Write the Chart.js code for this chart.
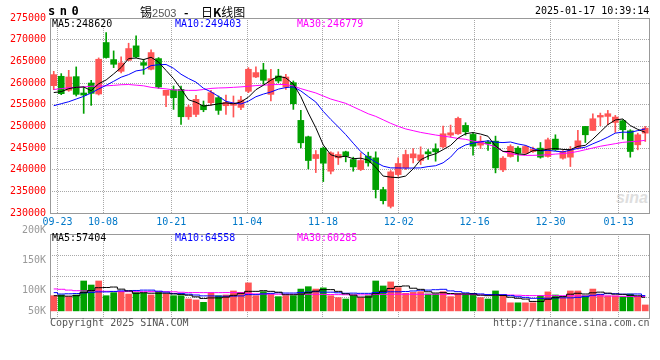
<!DOCTYPE html>
<html>
<head>
<meta charset="utf-8">
<title>锡2503 日K线图</title>
<script src="https://cdn.jsdelivr.net/npm/chart.js@4.4.1/dist/chart.umd.min.js"></script>
<style>
  body { margin: 0; background: #fff; }
  #wrap { position: relative; width: 660px; height: 360px; overflow: hidden; }
  #wrap canvas { position: absolute; left: 0; }
  .t { position: absolute; white-space: nowrap; font: 10px 'DejaVu Sans Mono', monospace; line-height: 10px; color: #000; }
  .vl { left: 0; width: 46px; text-align: right; color: #999; }
</style>
</head>
<body>
<div id="wrap">
  <div class="t" style="left:616px;top:190px;font:italic bold 16px 'Liberation Sans';line-height:16px;color:#dedede">sina</div>
  <canvas id="kChart" width="660" height="228" style="top:0"></canvas>
  <canvas id="volChart" width="660" height="112" style="top:228px"></canvas>

  <div class="t" style="left:48px;top:5px;font:bold 12px 'DejaVu Sans Mono';line-height:12px;letter-spacing:4.5px">sn0</div>
  <div class="t" style="left:140px;top:5px;font:12px 'Noto Sans CJK SC';line-height:14px">锡<span style="font:11px 'Liberation Sans';color:#555">2503</span></div>
  <div class="t" style="left:184px;top:5px;font:bold 12px 'Noto Sans CJK SC';line-height:14px">-</div>
  <div class="t" style="left:201px;top:5px;font:12px 'Noto Sans CJK SC';line-height:14px">日<b>K</b>线图</div>
  <div class="t" style="left:535px;top:6px">2025-01-17 10:39:14</div>

  <div class="t" id="lgMa5" style="left:52px;top:19px"></div>
  <div class="t" id="lgMa10" style="left:175px;top:19px;color:#0000ff"></div>
  <div class="t" id="lgMa30" style="left:297px;top:19px;color:#ff00ff"></div>

  <div class="t" id="lgVol5" style="left:52px;top:233px"></div>
  <div class="t" id="lgVol10" style="left:175px;top:233px;color:#0000ff"></div>
  <div class="t" id="lgVol30" style="left:297px;top:233px;color:#ff00ff"></div>

  <div class="t vl" style="top:225px">200K</div>
  <div class="t vl" style="top:255px">150K</div>
  <div class="t vl" style="top:285px">100K</div>
  <div class="t vl" style="top:306px">50K</div>

  <div class="t" style="left:50px;top:318px;color:#555">Copyright 2025 SINA.COM</div>
  <div class="t" style="left:493px;top:318px;color:#555">http://finance.sina.com.cn</div>
</div>

<script>
// trading days shown (one candle each)
const dates = [
  '09-20','09-23','09-24','09-25','09-26','09-27','09-30',
  '10-08','10-09','10-10','10-11','10-14','10-15','10-16','10-17','10-18','10-21','10-22','10-23','10-24','10-25','10-28','10-29','10-30','10-31',
  '11-01','11-04','11-05','11-06','11-07','11-08','11-11','11-12','11-13','11-14','11-15','11-18','11-19','11-20','11-21','11-22','11-25','11-26','11-27','11-28','11-29',
  '12-02','12-03','12-04','12-05','12-06','12-09','12-10','12-11','12-12','12-13','12-16','12-17','12-18','12-19','12-20','12-23','12-24','12-25','12-26','12-27','12-30','12-31',
  '01-02','01-03','01-06','01-07','01-08','01-09','01-10','01-13','01-14','01-15','01-16','01-17'
];
const tickDates = ['09-23','10-08','10-21','11-04','11-18','12-02','12-16','12-30','01-13'];
const priceTicks = [230000, 235000, 240000, 245000, 250000, 255000, 260000, 265000, 270000, 275000];

const open = [
  259390, 261550, 258310, 261470, 257690, 260000, 257460, 269340, 265400, 262700,
  265250, 268570, 264710, 263170, 265630, 257150, 258460, 258540, 252210, 252750,
  254840, 255450, 256610, 254760, 254840, 254370, 258080, 261390, 263010, 257380,
  261620, 259080, 260080, 251370, 247590, 242570, 244960, 239640, 242730, 244120,
  242340, 240030, 243110, 242730, 235400, 231540, 238870, 240410, 242730, 242110,
  244120, 244810, 245270, 247970, 248280, 250210, 248130, 245660, 246350, 246580,
  239950, 243040, 244960, 243810, 244190, 244960, 243040, 247050, 242650, 242880,
  244960, 249980, 249050, 252140, 252290, 250900, 251290, 248970, 245740, 248430
];
const high = [
  262700, 262160, 262930, 263710, 259080, 260620, 265790, 271650, 267410, 266020,
  269180, 270880, 265480, 267640, 265870, 258310, 259310, 259310, 254910, 257150,
  255840, 258310, 257000, 257230, 257000, 256920, 263550, 263710, 264550, 263170,
  263170, 262010, 260470, 253680, 247740, 244420, 245190, 244120, 244120, 244270,
  242880, 243880, 244040, 244120, 235940, 239800, 242730, 244500, 244890, 245270,
  244660, 245970, 250050, 250290, 252140, 250830, 248510, 247740, 246740, 247740,
  243040, 245740, 245350, 245580, 245200, 246270, 247280, 248050, 244420, 245350,
  249050, 249980, 252910, 253060, 253680, 252520, 251520, 249210, 248430, 249980
];
const low = [
  258460, 257310, 258080, 257000, 252990, 254840, 257230, 265710, 263550, 262320,
  265100, 265870, 262010, 263010, 258770, 254530, 253910, 250440, 251600, 252210,
  253370, 254910, 252750, 252750, 252140, 253830, 257770, 261240, 259700, 255840,
  260080, 258540, 253910, 245040, 240180, 239330, 237250, 239020, 241180, 241800,
  239640, 239800, 240800, 233470, 232080, 231160, 238480, 240030, 241570, 241180,
  242340, 241960, 245040, 247510, 248130, 247970, 243340, 244890, 244420, 239260,
  239560, 242880, 241880, 243580, 243960, 242650, 242880, 244420, 242420, 240720,
  244730, 246270, 249050, 250130, 250360, 248590, 247050, 242880, 244580, 246510
];
const close = [
  261930, 257540, 261390, 257380, 257230, 257610, 265480, 265870, 264320, 264630,
  267950, 266020, 264090, 267020, 259080, 258310, 256610, 252210, 254450, 256230,
  253830, 257770, 253680, 255530, 255140, 256070, 263170, 262400, 260620, 261010,
  260470, 261390, 255220, 246200, 242110, 243500, 241490, 243880, 243500, 243110,
  240640, 242110, 241570, 235400, 232850, 239490, 241420, 243500, 243650, 243420,
  243650, 244120, 248280, 248510, 251830, 248740, 245430, 246580, 245970, 240410,
  242650, 245350, 243810, 245350, 244730, 242880, 246890, 244580, 244190, 244580,
  246660, 248050, 251750, 252520, 252910, 252140, 249210, 244190, 248050, 249590
];

// moving averages as drawn on the price pane
const ma5 = [
  257800, 258000, 258700, 259000, 259090, 258230, 259820, 260710, 262100, 263580,
  265650, 265760, 265400, 265940, 264830, 262900, 261020, 258650, 256130, 255560,
  254670, 254900, 255190, 255410, 255190, 255640, 256720, 258460, 259480, 260650,
  261530, 261180, 259740, 256860, 253080, 249680, 245700, 243440, 242900, 243100,
  242530, 242650, 242190, 240570, 238520, 238280, 238150, 238530, 240180, 242290,
  243130, 243670, 244620, 245600, 247280, 248300, 248560, 248220, 247710, 245430,
  244210, 244190, 243640, 243510, 244380, 244420, 244730, 244890, 244660, 244620,
  245380, 245610, 247050, 248710, 250380, 251470, 251700, 250190, 249300, 248620
];
const ma10 = [
  254760, 255220, 255680, 256300, 256920, 257690, 258620, 259460, 260390, 261340,
  261940, 262790, 263060, 264020, 264210, 264280, 263390, 262020, 261040, 260200,
  258780, 257960, 256920, 255770, 255380, 255150, 255810, 256830, 257440, 257920,
  258580, 258950, 259100, 258170, 256870, 255610, 253440, 251590, 249880, 248090,
  246110, 244180, 242810, 241730, 240810, 240410, 240400, 240360, 240380, 240410,
  240710, 240910, 241580, 242890, 244790, 245710, 246120, 246420, 246660, 246350,
  246250, 246380, 245930, 245610, 244900, 244320, 244470, 244260, 244090, 244500,
  244910, 245180, 245970, 246690, 247500, 248430, 248660, 248620, 249010, 249403
];
const ma30 = [
  258500, 258700, 258900, 259000, 259100, 259250, 259300, 259350, 259450, 259600,
  259650, 259500, 259350, 259000, 258800, 258650, 258400, 258350, 258300, 258300,
  258500, 258750, 258850, 258900, 259000, 259100, 259250, 259400, 259500, 259600,
  259650, 259650, 259300, 258700, 258200, 257700, 257000, 256300, 255800, 255300,
  254500, 253700, 252900, 252300, 251500, 250700, 250000, 249400, 249000, 248600,
  248300, 248000, 247750, 247500, 247200, 247000, 246600, 246300, 245800, 245300,
  244200, 243700, 243400, 243300, 243300, 243350, 243450, 243600, 243700, 243900,
  244200, 244600, 245000, 245400, 245700, 246000, 246300, 246450, 246550, 246779
];

// volume (lots) and its averages
const volume = [
  64000, 67000, 60000, 67000, 126000, 109000, 126000, 64000, 77000, 81000,
  71000, 77000, 76000, 67000, 81000, 70000, 64000, 64000, 50000, 46000,
  36000, 76000, 64000, 67000, 84000, 78000, 118000, 64000, 81000, 70000,
  60000, 64000, 64000, 92000, 102000, 92000, 97000, 64000, 56000, 50000,
  64000, 56000, 64000, 126000, 105000, 122000, 98000, 74000, 78000, 81000,
  71000, 71000, 81000, 60000, 73000, 71000, 70000, 56000, 50000, 84000,
  64000, 34000, 34000, 34000, 34000, 64000, 80000, 67000, 56000, 84000,
  84000, 64000, 92000, 70000, 63000, 63000, 60000, 71000, 60000, 25000
];
const volMa5 = [
  64000, 63000, 62000, 64000, 77000, 86000, 97700, 98600, 100500, 91600,
  84000, 74200, 76400, 74500, 74500, 74200, 71700, 69400, 66100, 59100,
  52400, 54600, 54600, 58000, 65500, 73900, 82300, 82300, 85100, 82300,
  78700, 68000, 68000, 70300, 76700, 83200, 89600, 89600, 82300, 72000,
  66400, 58200, 58200, 72200, 83200, 94600, 103000, 105000, 95500, 90700,
  80600, 75300, 76700, 73100, 71400, 71400, 71100, 66100, 64100, 66400,
  65000, 57700, 53200, 49800, 39800, 39800, 49000, 55700, 60200, 70300,
  74200, 71100, 76200, 79000, 74800, 70600, 69700, 65500, 63600, 57404
];
const volMa10 = [
  77000, 71000, 72000, 73000, 76000, 78000, 80000, 80000, 82000, 84300,
  85000, 86000, 87500, 87500, 83000, 79100, 72900, 72900, 70300, 66800,
  63300, 63100, 62000, 62000, 62300, 63100, 68500, 68500, 71500, 73900,
  76300, 75200, 75200, 77700, 79500, 80900, 78800, 78800, 76300, 74300,
  74800, 73900, 73900, 77300, 77600, 80500, 80600, 81600, 83900, 86900,
  87600, 89200, 90900, 84300, 81100, 76000, 73200, 71400, 68600, 68900,
  68200, 64400, 59600, 57000, 53100, 52400, 53300, 54500, 55000, 55000,
  57000, 60100, 65900, 69600, 72500, 72400, 70400, 70800, 71300, 64558
];
const volMa30 = [
  92400, 91000, 87500, 85000, 84000, 84000, 83800, 82500, 81500, 81200,
  81200, 81000, 81000, 81200, 81000, 80800, 80500, 78500, 77500, 77200,
  77000, 77000, 77000, 77200, 77000, 76800, 74000, 71500, 71000, 70500,
  70200, 70000, 70000, 70200, 70000, 70000, 69500, 69000, 68500, 68000,
  67500, 67500, 68000, 69000, 69500, 70000, 70200, 70200, 70000, 70000,
  70000, 70200, 70000, 70000, 69800, 69500, 68500, 67500, 67200, 67200,
  67000, 66800, 66000, 64800, 64400, 64400, 64400, 64200, 64000, 63800,
  63200, 63000, 63000, 63000, 62800, 62400, 61200, 60800, 60500, 60285
];

const last = a => a[a.length - 1];
document.getElementById('lgMa5').textContent = 'MA5:' + last(ma5);
document.getElementById('lgMa10').textContent = 'MA10:' + last(ma10);
document.getElementById('lgMa30').textContent = 'MA30:' + last(ma30);
document.getElementById('lgVol5').textContent = 'MA5:' + last(volMa5);
document.getElementById('lgVol10').textContent = 'MA10:' + last(volMa10);
document.getElementById('lgVol30').textContent = 'MA30:' + last(volMa30);

const UP = '#ff5555', DOWN = '#00a000';
const GRID = '#a8a8a8';
const mono = { family: "'DejaVu Sans Mono', monospace", size: 10 };
const n = dates.length;
const colorAt = i => close[i] >= open[i] ? UP : DOWN;
const pts = arr => arr.map((v, i) => ({ x: i, y: v }));

// the source image spaces its date lines over n-1 steps, a bit wider than the candles
const gridAt = tickDates.map(d => dates.indexOf(d) * n / (n - 1) - 0.5);

const frame = {
  id: 'frame',
  beforeDatasetsDraw(chart) {
    const { ctx, chartArea: a } = chart;
    ctx.save();
    ctx.strokeStyle = '#999';
    ctx.lineWidth = 1;
    ctx.strokeRect(a.left + 0.5, a.top + 0.5, a.right - a.left, a.bottom - a.top);
    ctx.restore();
  }
};

function dateAxis(showLabels) {
  return {
    type: 'linear',
    min: -0.5,
    max: n - 0.5,
    offset: false,
    afterBuildTicks: s => { s.ticks = gridAt.map(v => ({ value: v })); },
    afterFit: s => { s.height = showLabels ? 15 : 0; },
    grid: { color: GRID, drawTicks: false, offset: false },
    border: { display: false, dash: [1, 1] },
    ticks: {
      display: showLabels, autoSkip: false, maxRotation: 0, padding: 3,
      color: '#0078c8', font: mono,
      callback: (v, i) => tickDates[i]
    }
  };
}

function maLine(data, color, stepped) {
  return {
    type: 'line', data: pts(data), borderColor: color, borderWidth: 1,
    pointRadius: 0, stepped: stepped ? 'middle' : false, tension: 0, order: 0
  };
}

const common = {
  responsive: false,
  animation: false,
  devicePixelRatio: 1,
  events: [],
  plugins: { legend: { display: false }, tooltip: { enabled: false } }
};

new Chart(document.getElementById('kChart'), {
  type: 'bar',
  data: {
    datasets: [
      { data: dates.map((d, i) => ({ x: i, y: [low[i], high[i]] })),
        backgroundColor: c => colorAt(c.dataIndex), barThickness: 1,
        grouped: false, borderWidth: 0, order: 2 },
      { data: dates.map((d, i) => ({ x: i, y: [open[i], close[i]] })),
        backgroundColor: c => colorAt(c.dataIndex), barThickness: 6, minBarLength: 1,
        grouped: false, borderWidth: 0, order: 1 },
      maLine(ma5, '#000000'),
      maLine(ma10, '#0000ff'),
      maLine(ma30, '#ff00ff')
    ]
  },
  options: {
    ...common,
    layout: { padding: { top: 18, right: 11, left: 0, bottom: 0 } },
    scales: {
      x: dateAxis(true),
      y: {
        min: 230000, max: 275000, beginAtZero: false,
        afterBuildTicks: s => { s.ticks = priceTicks.map(v => ({ value: v })); },
        afterFit: s => { s.width = 50; },
        grid: { color: GRID, drawTicks: false },
        border: { display: false, dash: [1, 1] },
        ticks: { color: '#ff0000', font: mono, padding: 4, callback: v => String(v) }
      }
    }
  },
  plugins: [frame]
});

new Chart(document.getElementById('volChart'), {
  type: 'bar',
  data: {
    datasets: [
      { data: pts(volume), backgroundColor: c => colorAt(c.dataIndex), barThickness: 6,
        grouped: false, borderWidth: 0, order: 1 },
      maLine(volMa5, '#000000', true),
      maLine(volMa10, '#0000ff', true),
      maLine(volMa30, '#ff00ff', true)
    ]
  },
  options: {
    ...common,
    layout: { padding: { top: 6, right: 11, left: 0, bottom: 22 } },
    scales: {
      x: dateAxis(false),
      y: {
        min: -30000, max: 324000,
        afterFit: s => { s.width = 50; },
        grid: { color: GRID, drawTicks: false },
        border: { display: false, dash: [1, 1] },
        ticks: { display: false, count: 5 }
      }
    }
  },
  plugins: [frame]
});
</script>
</body>
</html>
